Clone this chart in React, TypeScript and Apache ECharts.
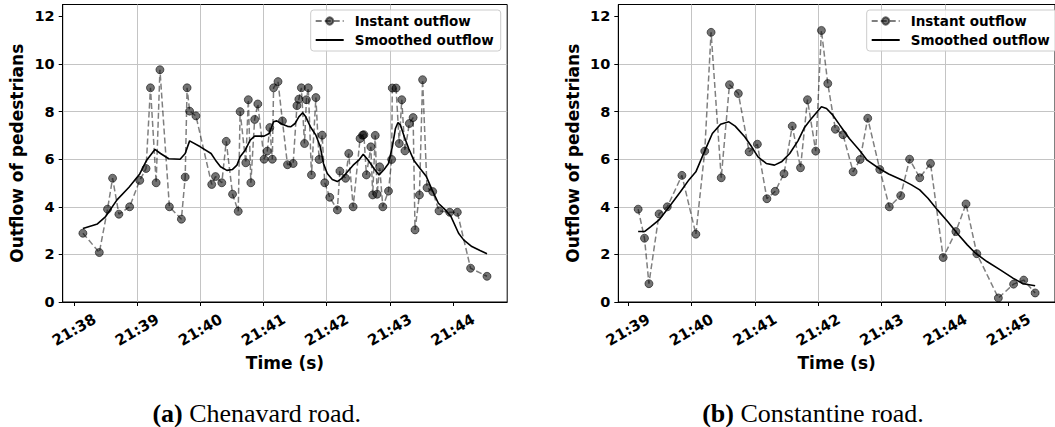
import React, { useEffect, useRef } from "react";
import * as echarts from "echarts";

// Time is given in minutes after 21:00
const HOUR = "21";

// (a) Chenavard road
const leftInstantT = [
  38.14, 38.40, 38.53, 38.61, 38.71, 38.88, 39.04, 39.14, 39.21, 39.30, 39.36, 39.51, 39.70, 39.76,
  39.79, 39.83, 39.93, 40.18, 40.24, 40.34, 40.41, 40.51, 40.60, 40.63, 40.72, 40.76, 40.80, 40.86,
  40.91, 41.01, 41.06, 41.10, 41.14, 41.16, 41.23, 41.30, 41.38, 41.47, 41.53, 41.56, 41.60, 41.65,
  41.68, 41.71, 41.76, 41.83, 41.88, 41.93, 41.97, 42.05, 42.17, 42.21, 42.30, 42.35, 42.42, 42.53,
  42.57, 42.59, 42.63, 42.70, 42.73, 42.77, 42.80, 42.84, 42.89, 42.98, 43.03, 43.04, 43.10, 43.15,
  43.19, 43.24, 43.31, 43.37, 43.40, 43.47, 43.52, 43.59, 43.68, 43.78, 43.95, 44.07, 44.28, 44.54,
];
const leftInstantV = [
  2.89, 2.08, 3.90, 5.20, 3.69, 4.00, 5.11, 5.61, 9.00, 5.01, 9.76, 4.00, 3.48, 5.25,
  9.00, 8.02, 7.82, 4.94, 5.27, 5.01, 6.75, 4.53, 3.81, 8.00, 5.85, 8.50, 5.01, 7.67,
  8.32, 6.00, 6.34, 7.33, 6.00, 9.00, 9.26, 7.61, 5.77, 5.82, 8.25, 8.52, 9.00, 6.66,
  8.50, 9.00, 5.34, 8.59, 5.99, 7.01, 5.01, 4.40, 3.87, 5.50, 5.20, 6.24, 4.00, 6.87,
  7.01, 7.03, 5.34, 6.52, 4.50, 7.00, 4.53, 5.68, 4.00, 4.66, 5.99, 8.99, 8.99, 6.66,
  8.50, 6.35, 7.50, 7.75, 3.03, 4.50, 9.34, 4.80, 4.64, 3.83, 3.77, 3.77, 1.42, 1.08,
];
const leftSmoothT = [
  38.14, 38.37, 38.50, 38.68, 38.87, 39.04, 39.15, 39.28, 39.37, 39.50, 39.68, 39.76, 39.83, 40.00,
  40.17, 40.24, 40.32, 40.42, 40.51, 40.58, 40.63, 40.71, 40.79, 40.86, 41.01, 41.09, 41.16, 41.21,
  41.30, 41.38, 41.43, 41.50, 41.56, 41.62, 41.67, 41.75, 41.83, 41.90, 41.95, 42.01, 42.09, 42.17,
  42.25, 42.33, 42.42, 42.51, 42.58, 42.65, 42.75, 42.83, 42.91, 42.98, 43.04, 43.09, 43.13, 43.17,
  43.23, 43.30, 43.38, 43.48, 43.58, 43.67, 43.77, 43.88, 43.97, 44.09, 44.17, 44.30, 44.43, 44.54,
];
const leftSmoothV = [
  3.09, 3.28, 3.59, 4.29, 4.82, 5.38, 5.96, 6.41, 6.24, 6.02, 6.00, 6.24, 6.77, 6.52,
  6.24, 5.96, 5.68, 5.53, 5.57, 5.75, 6.10, 6.38, 6.80, 6.97, 6.97, 7.08, 7.57, 7.61,
  7.47, 7.38, 7.36, 7.50, 7.78, 7.95, 7.78, 7.33, 7.01, 6.52, 5.82, 5.40, 5.15, 5.06,
  5.22, 5.47, 5.75, 5.96, 6.21, 5.99, 5.61, 5.34, 5.57, 5.82, 6.52, 7.29, 7.54, 7.43,
  6.94, 6.45, 5.96, 5.61, 5.27, 4.71, 4.15, 3.87, 3.59, 2.89, 2.61, 2.33, 2.16, 2.03,
];

// (b) Constantine road
const rightInstantT = [
  39.16, 39.26, 39.33, 39.49, 39.62, 39.85, 40.07, 40.21, 40.31, 40.47, 40.60, 40.74, 40.91, 41.04,
  41.19, 41.32, 41.46, 41.59, 41.72, 41.83, 41.96, 42.05, 42.15, 42.27, 42.39, 42.55, 42.66, 42.78,
  42.97, 43.12, 43.30, 43.44, 43.60, 43.77, 43.97, 44.17, 44.33, 44.50, 44.84, 45.08, 45.24, 45.42,
];
const rightInstantV = [
  3.90, 2.68, 0.77, 3.70, 4.00, 5.32, 2.85, 6.34, 11.33, 5.22, 9.13, 8.76, 6.31, 6.63,
  4.34, 4.65, 5.39, 7.39, 5.64, 8.50, 6.34, 11.41, 9.18, 7.26, 7.03, 5.47, 5.99, 7.72,
  5.57, 4.00, 4.47, 6.00, 5.22, 5.82, 1.87, 2.96, 4.12, 2.03, 0.17, 0.75, 0.92, 0.38,
];
const rightSmoothT = [
  39.16, 39.26, 39.36, 39.49, 39.65, 39.83, 39.96, 40.07, 40.17, 40.25, 40.33, 40.46, 40.59, 40.69,
  40.84, 40.95, 41.05, 41.18, 41.31, 41.42, 41.55, 41.68, 41.78, 41.88, 41.97, 42.05, 42.13, 42.23,
  42.34, 42.49, 42.65, 42.77, 42.96, 43.11, 43.32, 43.47, 43.60, 43.73, 43.88, 44.04, 44.19, 44.35,
  44.48, 44.66, 44.87, 45.07, 45.23, 45.42,
];
const rightSmoothV = [
  2.96, 2.96, 3.17, 3.45, 4.00, 4.64, 5.13, 5.47, 6.10, 6.59, 7.08, 7.47, 7.57, 7.39,
  6.94, 6.52, 6.10, 5.82, 5.75, 5.89, 6.24, 6.77, 7.32, 7.67, 7.95, 8.20, 8.13, 7.85,
  7.43, 6.87, 6.38, 5.96, 5.61, 5.38, 5.13, 4.92, 4.71, 4.36, 3.87, 3.38, 2.89, 2.40,
  2.05, 1.70, 1.35, 1.00, 0.77, 0.68,
];

const leftXTicks = [38, 39, 40, 41, 42, 43, 44];
const rightXTicks = [39, 40, 41, 42, 43, 44, 45];
const yTicks = [0, 2, 4, 6, 8, 10, 12];
const Y_MAX = 12.5;

const seriesNames = ["Instant outflow", "Smoothed outflow"];
const xName = "Time (s)";
const yName = "Outflow of pedestrians";
const captionLetters = ["(a)", "(b)"];
const captionTexts = ["Chenavard road.", "Constantine road."];

const FONT = "'DejaVu Sans', 'Liberation Sans', sans-serif";
const SERIF = "'Liberation Serif', 'DejaVu Serif', serif";

function pairs(t: number[], v: number[]) {
  return t.map((x, i) => [x, v[i]]);
}

function paddedRange(t: number[]) {
  const lo = Math.min(...t);
  const hi = Math.max(...t);
  const pad = (hi - lo) * 0.05;
  return [lo - pad, hi + pad];
}

const isInt = (v: number) => Math.abs(v - Math.round(v)) < 1e-6;

function xAxisCfg(gridIndex: number, t: number[], ticks: number[]) {
  const [min, max] = paddedRange(t);
  return {
    type: "value",
    gridIndex,
    min,
    max,
    splitNumber: 7,
    name: xName,
    nameLocation: "middle",
    nameGap: 50,
    nameTextStyle: { fontFamily: FONT, fontWeight: "bold", fontSize: 17, color: "#000" },
    axisLine: { show: true, onZero: false, lineStyle: { color: "#000", width: 1 } },
    axisTick: { show: true, length: 4, inside: false, customValues: ticks, lineStyle: { color: "#000", width: 1 } },
    axisLabel: {
      show: true,
      customValues: ticks,
      rotate: 30,
      align: "center",
      verticalAlign: "middle",
      margin: 28,
      fontFamily: FONT,
      fontWeight: "bold",
      fontSize: 15,
      color: "#000",
      formatter: (v: number) => (isInt(v) ? `${HOUR}:${Math.round(v)}` : ""),
    },
    splitLine: { show: true, showMinLine: false, showMaxLine: false, lineStyle: { color: "#c4c4c4", width: 1 } },
  };
}

function yAxisCfg(gridIndex: number) {
  return {
    type: "value",
    gridIndex,
    min: 0,
    max: Y_MAX,
    interval: 2,
    name: yName,
    nameLocation: "middle",
    nameGap: 37,
    nameTextStyle: { fontFamily: FONT, fontWeight: "bold", fontSize: 17, color: "#000" },
    axisLine: { show: true, onZero: false, lineStyle: { color: "#000", width: 1 } },
    axisTick: { show: true, length: 4, inside: false, customValues: yTicks, lineStyle: { color: "#000", width: 1 } },
    axisLabel: {
      show: true,
      customValues: yTicks,
      margin: 8,
      fontFamily: FONT,
      fontWeight: "bold",
      fontSize: 14.5,
      color: "#000",
      formatter: (v: number) => (isInt(v) && Math.round(v) % 2 === 0 ? String(Math.round(v)) : ""),
    },
    splitLine: { show: true, showMinLine: false, showMaxLine: false, lineStyle: { color: "#c4c4c4", width: 1 } },
  };
}

function instantSeries(idx: number, t: number[], v: number[]) {
  return {
    name: seriesNames[0],
    type: "line",
    xAxisIndex: idx,
    yAxisIndex: idx,
    data: pairs(t, v),
    symbol: "circle",
    symbolSize: 8,
    showSymbol: true,
    lineStyle: { color: "rgba(0,0,0,0.5)", width: 1.5, type: [6, 3] },
    itemStyle: { color: "rgba(0,0,0,0.55)", borderColor: "rgba(0,0,0,0.55)", borderWidth: 1 },
    emphasis: { disabled: true },
    z: 2,
  };
}

function smoothSeries(idx: number, t: number[], v: number[]) {
  return {
    name: seriesNames[1],
    type: "line",
    xAxisIndex: idx,
    yAxisIndex: idx,
    data: pairs(t, v),
    symbol: "none",
    showSymbol: false,
    lineStyle: { color: "#000", width: 1.6, type: "solid" },
    itemStyle: { color: "#000" },
    emphasis: { disabled: true },
    z: 3,
  };
}

function legendCfg(left: number) {
  return {
    show: true,
    orient: "vertical",
    left,
    top: 10,
    padding: [4, 7, 4, 4],
    itemGap: 5,
    itemWidth: 28,
    itemHeight: 9,
    backgroundColor: "rgba(255,255,255,0.8)",
    borderColor: "#cccccc",
    borderWidth: 1,
    borderRadius: 3,
    data: [
      { name: seriesNames[0] },
      { name: seriesNames[1], itemStyle: { opacity: 0, color: "transparent", borderWidth: 0 } },
    ],
    textStyle: { fontFamily: FONT, fontWeight: "bold", fontSize: 13.5, color: "#000", padding: [0, 0, 0, 6] },
    selectedMode: false,
  };
}

export default function App() {
  const ref = useRef<HTMLDivElement>(null);
  useEffect(() => {
    if (!ref.current) return;
    const chart = echarts.init(ref.current, null, { renderer: "svg" });
    const option: any = {
      animation: false,
      backgroundColor: "#fff",
      grid: [
        { left: 62.7, top: 4.5, width: 444.5, height: 297.5, show: true, borderColor: "#000", borderWidth: 1, backgroundColor: "transparent", containLabel: false },
        { left: 618.3, top: 4.5, width: 444.3, height: 297.5, show: true, borderColor: "#000", borderWidth: 1, backgroundColor: "transparent", containLabel: false },
      ],
      xAxis: [xAxisCfg(0, leftInstantT, leftXTicks), xAxisCfg(1, rightInstantT, rightXTicks)],
      yAxis: [yAxisCfg(0), yAxisCfg(1)],
      legend: [legendCfg(310.7), legendCfg(866.7)],
      series: [
        instantSeries(0, leftInstantT, leftInstantV),
        smoothSeries(0, leftSmoothT, leftSmoothV),
        instantSeries(1, rightInstantT, rightInstantV),
        smoothSeries(1, rightSmoothT, rightSmoothV),
      ],
      graphic: [
        {
          type: "text",
          x: 256.7,
          y: 413,
          style: {
            text: `{b|${captionLetters[0]}} ${captionTexts[0]}`,
            fontFamily: SERIF,
            fontSize: 26,
            fill: "#000",
            align: "center",
            verticalAlign: "middle",
            rich: { b: { fontFamily: SERIF, fontSize: 26, fontWeight: "bold", fill: "#000" } },
          },
        },
        {
          type: "text",
          x: 813,
          y: 413,
          style: {
            text: `{b|${captionLetters[1]}} ${captionTexts[1]}`,
            fontFamily: SERIF,
            fontSize: 26,
            fill: "#000",
            align: "center",
            verticalAlign: "middle",
            rich: { b: { fontFamily: SERIF, fontSize: 26, fontWeight: "bold", fill: "#000" } },
          },
        },
      ],
    };
    chart.setOption(option);
    return () => chart.dispose();
  }, []);
  return (
    <div
      ref={ref}
      style={{ position: "absolute", left: 0, top: 0, width: 1055, height: 427, background: "#fff" }}
    />
  );
}
